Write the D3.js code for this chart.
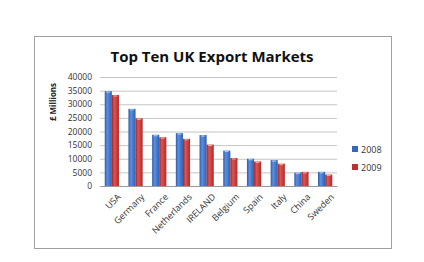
<!DOCTYPE html>
<html>
<head>
<meta charset="utf-8">
<script src="https://cdn.jsdelivr.net/npm/d3@7"></script>
<style>
  body { margin: 0; background: #fff; }
  svg text { font-family: "Open Sans", "Liberation Sans", sans-serif; }
</style>
</head>
<body>
<div id="chart"></div>
<script>
// chart values
const countries = ["USA", "Germany", "France", "Netherlands", "IRELAND", "Belgium", "Spain", "Italy", "China", "Sweden"];
const years = ["2008", "2009"];
const exports2008 = [34800, 28300, 18800, 19400, 18700, 13000, 10000, 9500, 4900, 5200];
const exports2009 = [33400, 24800, 17900, 17300, 15200, 10300, 9000, 8200, 5200, 4200];
const yTicks = [0, 5000, 10000, 15000, 20000, 25000, 30000, 35000, 40000];

const W = 424, H = 262;
const margin = {top: 77, left: 100, right: 87, bottom: 76};
const width = W - margin.left - margin.right,
      height = H - margin.top - margin.bottom;

const svg = d3.select("#chart").append("svg")
  .attr("width", W).attr("height", H);

// gradients for the shaded bars
const defs = svg.append("defs");
function grad(id, dark, mid, light) {
  const g = defs.append("linearGradient").attr("id", id)
    .attr("x1", "0%").attr("x2", "100%").attr("y1", "0%").attr("y2", "0%");
  g.append("stop").attr("offset", "0%").attr("stop-color", dark);
  g.append("stop").attr("offset", "35%").attr("stop-color", light);
  g.append("stop").attr("offset", "100%").attr("stop-color", mid);
}
grad("g2008", "#2d5aa8", "#2f5fb3", "#5b8fe0");
grad("g2009", "#a02525", "#b02a2a", "#dc5552");
const colors = {"2008": "url(#g2008)", "2009": "url(#g2009)"};
const swatch = {"2008": "#3567c0", "2009": "#c0302e"};

// outer frame
svg.append("rect")
  .attr("x", 34.5).attr("y", 36.5).attr("width", 357).attr("height", 212)
  .attr("fill", "#fff").attr("stroke", "#a0a0a0").attr("stroke-width", 1);

// title
svg.append("text")
  .attr("x", 212).attr("y", 62)
  .attr("text-anchor", "middle")
  .style("font-size", "15px").style("font-weight", "bold")
  .attr("fill", "#111")
  .text("Top Ten UK Export Markets");

const g = svg.append("g").attr("transform", "translate(" + margin.left + "," + margin.top + ")");

const x0 = d3.scaleBand().domain(countries).range([0, width]).paddingInner(0.4).paddingOuter(0.2);
const x1 = d3.scaleBand().domain(years).range([0, x0.bandwidth()]);
const y = d3.scaleLinear().domain([0, 40000]).range([height, 0]);

// gridlines
g.append("g")
  .call(d3.axisLeft(y).tickValues(yTicks).tickSize(-width).tickFormat(""))
  .call(s => s.select(".domain").remove())
  .call(s => s.selectAll("line").attr("stroke", "#c4c4c4"));

// y tick labels
g.append("g")
  .call(d3.axisLeft(y).tickValues(yTicks).tickSize(0).tickPadding(8).tickFormat(d3.format("d")))
  .call(s => s.select(".domain").remove())
  .call(s => s.selectAll("text").attr("fill", "#333").style("font-size", "8.5px")
    .style("font-family", "'Open Sans', 'Liberation Sans', sans-serif"));

// y axis title
g.append("text")
  .attr("transform", "rotate(-90)")
  .attr("x", -25).attr("y", -44)
  .attr("text-anchor", "middle")
  .style("font-size", "8px").style("font-weight", "bold")
  .attr("fill", "#222")
  .text("£ Millions");

// bars
const rows = countries.map((c, i) => ({country: c, values: [
  {year: "2008", v: exports2008[i]},
  {year: "2009", v: exports2009[i]}
]}));

const groups = g.selectAll(".grp").data(rows).join("g")
  .attr("class", "grp")
  .attr("transform", d => "translate(" + x0(d.country) + ",0)");

groups.selectAll("rect").data(d => d.values).join("rect")
  .attr("x", d => x1(d.year))
  .attr("y", d => y(d.v))
  .attr("width", x1.bandwidth())
  .attr("height", d => height - y(d.v))
  .attr("fill", d => colors[d.year]);

// bar top highlights
groups.selectAll("line.hl").data(d => d.values).join("line")
  .attr("class", "hl")
  .attr("x1", d => x1(d.year) + 1.5)
  .attr("x2", d => x1(d.year) + x1.bandwidth() - 1.5)
  .attr("y1", d => y(d.v) + 1)
  .attr("y2", d => y(d.v) + 1)
  .attr("stroke", "#ffffff").attr("stroke-opacity", 0.55).attr("stroke-width", 1);

// x axis
const xAxis = g.append("g")
  .attr("transform", "translate(0," + height + ")")
  .call(d3.axisBottom(x0).tickSize(0).tickPadding(6));
xAxis.select(".domain").attr("stroke", "#999");
xAxis.selectAll("text")
  .attr("fill", "#333")
  .style("font-size", "9px")
  .style("font-family", "'Open Sans', 'Liberation Sans', sans-serif")
  .attr("text-anchor", "end")
  .attr("dy", "0.35em")
  .attr("transform", "translate(3,5) rotate(-45)");

// legend
const legend = svg.append("g").attr("transform", "translate(352,146)");
years.forEach((yr, i) => {
  const row = legend.append("g").attr("transform", "translate(0," + (i * 18) + ")");
  row.append("rect").attr("x", 0).attr("y", 0).attr("width", 6).attr("height", 6)
    .attr("fill", swatch[yr]);
  row.append("text").attr("x", 9).attr("y", 6.5)
    .style("font-size", "9px").attr("fill", "#333").text(yr);
});
</script>
</body>
</html>
